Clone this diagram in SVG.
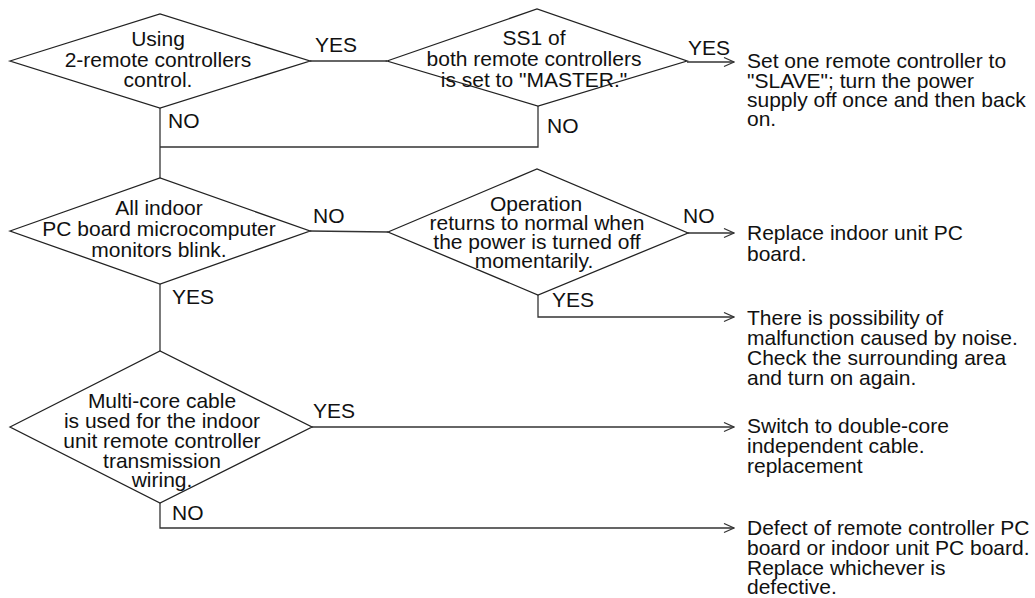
<svg xmlns="http://www.w3.org/2000/svg" width="1035" height="598" viewBox="0 0 1035 598">
<style>
.shape{fill:#fff;stroke:#222;stroke-width:1.3}
.conn{fill:none;stroke:#333;stroke-width:1.3}
text{font-family:"Liberation Sans",Arial,sans-serif;font-size:21px;fill:#111}
.c{text-anchor:middle}
</style>
<defs>
<marker id="arr" markerUnits="userSpaceOnUse" markerWidth="12" markerHeight="12" refX="11" refY="5" orient="auto">
<path d="M1,0.5 L11,5 L1,9.5" fill="none" stroke="#333" stroke-width="1.2"/>
</marker>
</defs>
<rect width="1035" height="598" fill="#fff"/>
<g id="connectors">
<path class="conn" d="M310,61 L387,61"/>
<path class="conn" d="M687,62 L734,62" marker-end="url(#arr)"/>
<path class="conn" d="M160,108 L160,178"/>
<path class="conn" d="M538,106 L538,147 L160,147"/>
<path class="conn" d="M310,231 L388,232"/>
<path class="conn" d="M688,233 L734,233" marker-end="url(#arr)"/>
<path class="conn" d="M538,295 L538,317 L734,317" marker-end="url(#arr)"/>
<path class="conn" d="M160,284 L160,351"/>
<path class="conn" d="M312,427 L734,427" marker-end="url(#arr)"/>
<path class="conn" d="M160,503 L160,528 L734,528" marker-end="url(#arr)"/>
<text x="315" y="52">YES</text>
<text x="688" y="55">YES</text>
<text x="168" y="128">NO</text>
<text x="547" y="133">NO</text>
<text x="313" y="223">NO</text>
<text x="683" y="223">NO</text>
<text x="172" y="304">YES</text>
<text x="552" y="307">YES</text>
<text x="313" y="418">YES</text>
<text x="172" y="520">NO</text>
</g>
<g id="d1">
<polygon class="shape" points="10,61 160,14 310,61 160,108"/>
<text class="c" x="158" y="46">Using</text>
<text class="c" x="158" y="67">2-remote controllers</text>
<text class="c" x="158" y="87">control.</text>
</g>
<g id="d2">
<polygon class="shape" points="387,61 537,9 687,61 538,106"/>
<text class="c" x="534" y="45">SS1 of</text>
<text class="c" x="534" y="66">both remote controllers</text>
<text class="c" x="534" y="87">is set to "MASTER."</text>
</g>
<g id="d3">
<polygon class="shape" points="10,231 160,178 310,231 160,284"/>
<text class="c" x="159" y="215">All indoor</text>
<text class="c" x="159" y="236">PC board microcomputer</text>
<text class="c" x="159" y="257">monitors blink.</text>
</g>
<g id="d4">
<polygon class="shape" points="388,232 537,169 688,233 538,295"/>
<text class="c" x="536" y="211">Operation</text>
<text class="c" x="537" y="230">returns to normal when</text>
<text class="c" x="537" y="249">the power is turned off</text>
<text class="c" x="534" y="268">momentarily.</text>
</g>
<g id="d5">
<polygon class="shape" points="10,427 160,351 312,427 160,503"/>
<text class="c" x="162" y="408">Multi-core cable</text>
<text class="c" x="162" y="428">is used for the indoor</text>
<text class="c" x="162" y="448">unit remote controller</text>
<text class="c" x="162" y="468">transmission</text>
<text class="c" x="162" y="487">wiring.</text>
</g>
<g id="r1">
<text x="747" y="68">Set one remote controller to</text>
<text x="747" y="88">"SLAVE"; turn the power</text>
<text x="747" y="107">supply off once and then back</text>
<text x="747" y="126">on.</text>
</g>
<g id="r2">
<text x="747" y="240">Replace indoor unit PC</text>
<text x="747" y="261">board.</text>
</g>
<g id="r3">
<text x="747" y="325">There is possibility of</text>
<text x="747" y="345">malfunction caused by noise.</text>
<text x="747" y="365">Check the surrounding area</text>
<text x="747" y="385">and turn on again.</text>
</g>
<g id="r4">
<text x="747" y="433">Switch to double-core</text>
<text x="747" y="453">independent cable.</text>
<text x="747" y="473">replacement</text>
</g>
<g id="r5">
<text x="747" y="535">Defect of remote controller PC</text>
<text x="747" y="555">board or indoor unit PC board.</text>
<text x="747" y="575">Replace whichever is</text>
<text x="747" y="594">defective.</text>
</g>
</svg>
